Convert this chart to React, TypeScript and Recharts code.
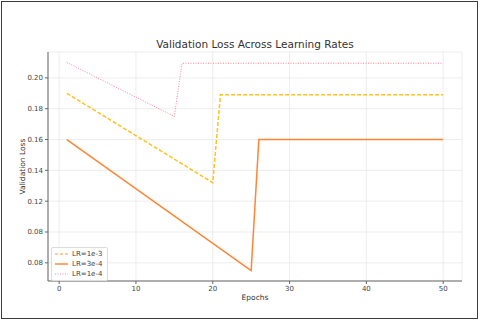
import { LineChart, Line, XAxis, YAxis, CartesianGrid, Label } from "recharts";

// epochs where each curve changes direction, with the loss
const lr1e3Epochs = [1, 20, 21, 50];
const lr1e3Loss = [0.19, 0.132, 0.189, 0.189];
const lr3e4Epochs = [1, 25, 26, 50];
const lr3e4Loss = [0.16, 0.075, 0.16, 0.16];
const lr1e4Epochs = [1, 15, 16, 50];
const lr1e4Loss = [0.21, 0.175, 0.2095, 0.2095];

const xTicks = [0, 10, 20, 30, 40, 50];
const yTicks = [0.08, 0.1, 0.12, 0.14, 0.16, 0.18, 0.2];
// labels as printed in the picture (the 0.10 tick reads "0.08")
const yTickLabels = ["0.08", "0.08", "0.12", "0.14", "0.16", "0.18", "0.20"];

const legendItems = [
  { name: "LR=1e-3", color: "#ff9a3c", dash: "3 2", width: 1.2 },
  { name: "LR=3e-4", color: "#ff8a3d", dash: undefined, width: 1.5 },
  { name: "LR=1e-4", color: "#ff8fa8", dash: "1 1.5", width: 1 }
];

const zip = (xs: number[], ys: number[]) => xs.map((epoch, i) => ({ epoch, loss: ys[i] }));

const font = "'DejaVu Sans', sans-serif";

const LegendBox = () => (
  <div
    style={{
      position: "absolute",
      left: 51,
      top: 247,
      background: "#fff",
      border: "1px solid #dcdcdc",
      borderRadius: 2,
      padding: "1px 5px 1px 3px",
      fontFamily: font,
      fontSize: 7,
      color: "#444",
      lineHeight: "10px"
    }}
  >
    {legendItems.map((it) => (
      <div key={it.name} style={{ display: "flex", alignItems: "center", height: 10 }}>
        <svg width={13} height={4} style={{ marginRight: 4 }}>
          <line x1={0} y1={2} x2={13} y2={2} stroke={it.color} strokeWidth={it.width} strokeDasharray={it.dash} />
        </svg>
        <span>{it.name}</span>
      </div>
    ))}
  </div>
);

export default function App() {
  return (
    <div style={{ position: "absolute", left: 0, top: 0, width: 480, height: 322, background: "#fff" }}>
      <div
        style={{
          position: "absolute",
          left: 1,
          top: 1,
          width: 477,
          height: 318,
          border: "1.5px solid #3c3c3c",
          boxSizing: "border-box"
        }}
      />
      <div
        style={{
          position: "absolute",
          left: 48,
          width: 414,
          top: 38,
          textAlign: "center",
          fontFamily: font,
          fontSize: 10.5,
          color: "#333"
        }}
      >
        Validation Loss Across Learning Rates
      </div>
      <LineChart width={480} height={322} margin={{ top: 52, right: 18, bottom: 11, left: 0 }} style={{ position: "absolute", left: 0, top: 0 }}>
        <CartesianGrid stroke="#e8e8e8" strokeWidth={0.8} />
        <XAxis
          type="number"
          dataKey="epoch"
          domain={[-1.45, 52.45]}
          ticks={xTicks}
          allowDataOverflow
          height={30}
          tickSize={3}
          tickMargin={2}
          stroke="#666"
          tick={{ fill: "#444", fontSize: 7, fontFamily: font }}
        >
          <Label
            content={({ viewBox }: any) => (
              <text
                x={viewBox.x + viewBox.width / 2}
                y={297}
                textAnchor="middle"
                dominantBaseline="central"
                fill="#333"
                fontSize={7.5}
                fontFamily={font}
              >
                Epochs
              </text>
            )}
          />
        </XAxis>
        <YAxis
          type="number"
          dataKey="loss"
          domain={[0.0682, 0.2168]}
          ticks={yTicks}
          allowDataOverflow
          width={48}
          tickSize={3}
          tickMargin={2}
          stroke="#666"
          tickFormatter={(v: number) => yTickLabels[yTicks.findIndex((t) => Math.abs(t - v) < 1e-9)] ?? String(v)}
          tick={{ fill: "#444", fontSize: 7, fontFamily: font }}
        >
          <Label
            content={({ viewBox }: any) => (
              <text
                x={22}
                y={viewBox.y + viewBox.height / 2}
                transform={`rotate(-90, 22, ${viewBox.y + viewBox.height / 2})`}
                textAnchor="middle"
                dominantBaseline="central"
                fill="#333"
                fontSize={7.5}
                fontFamily={font}
              >
                Validation Loss
              </text>
            )}
          />
        </YAxis>
        <Line
          data={zip(lr1e3Epochs, lr1e3Loss)}
          dataKey="loss"
          name="LR=1e-3"
          type="linear"
          stroke="#ffc21a"
          strokeWidth={1.5}
          strokeDasharray="4 2"
          dot={false}
          isAnimationActive={false}
        />
        <Line
          data={zip(lr3e4Epochs, lr3e4Loss)}
          dataKey="loss"
          name="LR=3e-4"
          type="linear"
          stroke="#ff8534"
          strokeWidth={1.5}
          dot={false}
          isAnimationActive={false}
        />
        <Line
          data={zip(lr1e4Epochs, lr1e4Loss)}
          dataKey="loss"
          name="LR=1e-4"
          type="linear"
          stroke="#ff7f9b"
          strokeWidth={1}
          strokeDasharray="1 1.5"
          dot={false}
          isAnimationActive={false}
        />
      </LineChart>
      <LegendBox />
    </div>
  );
}
